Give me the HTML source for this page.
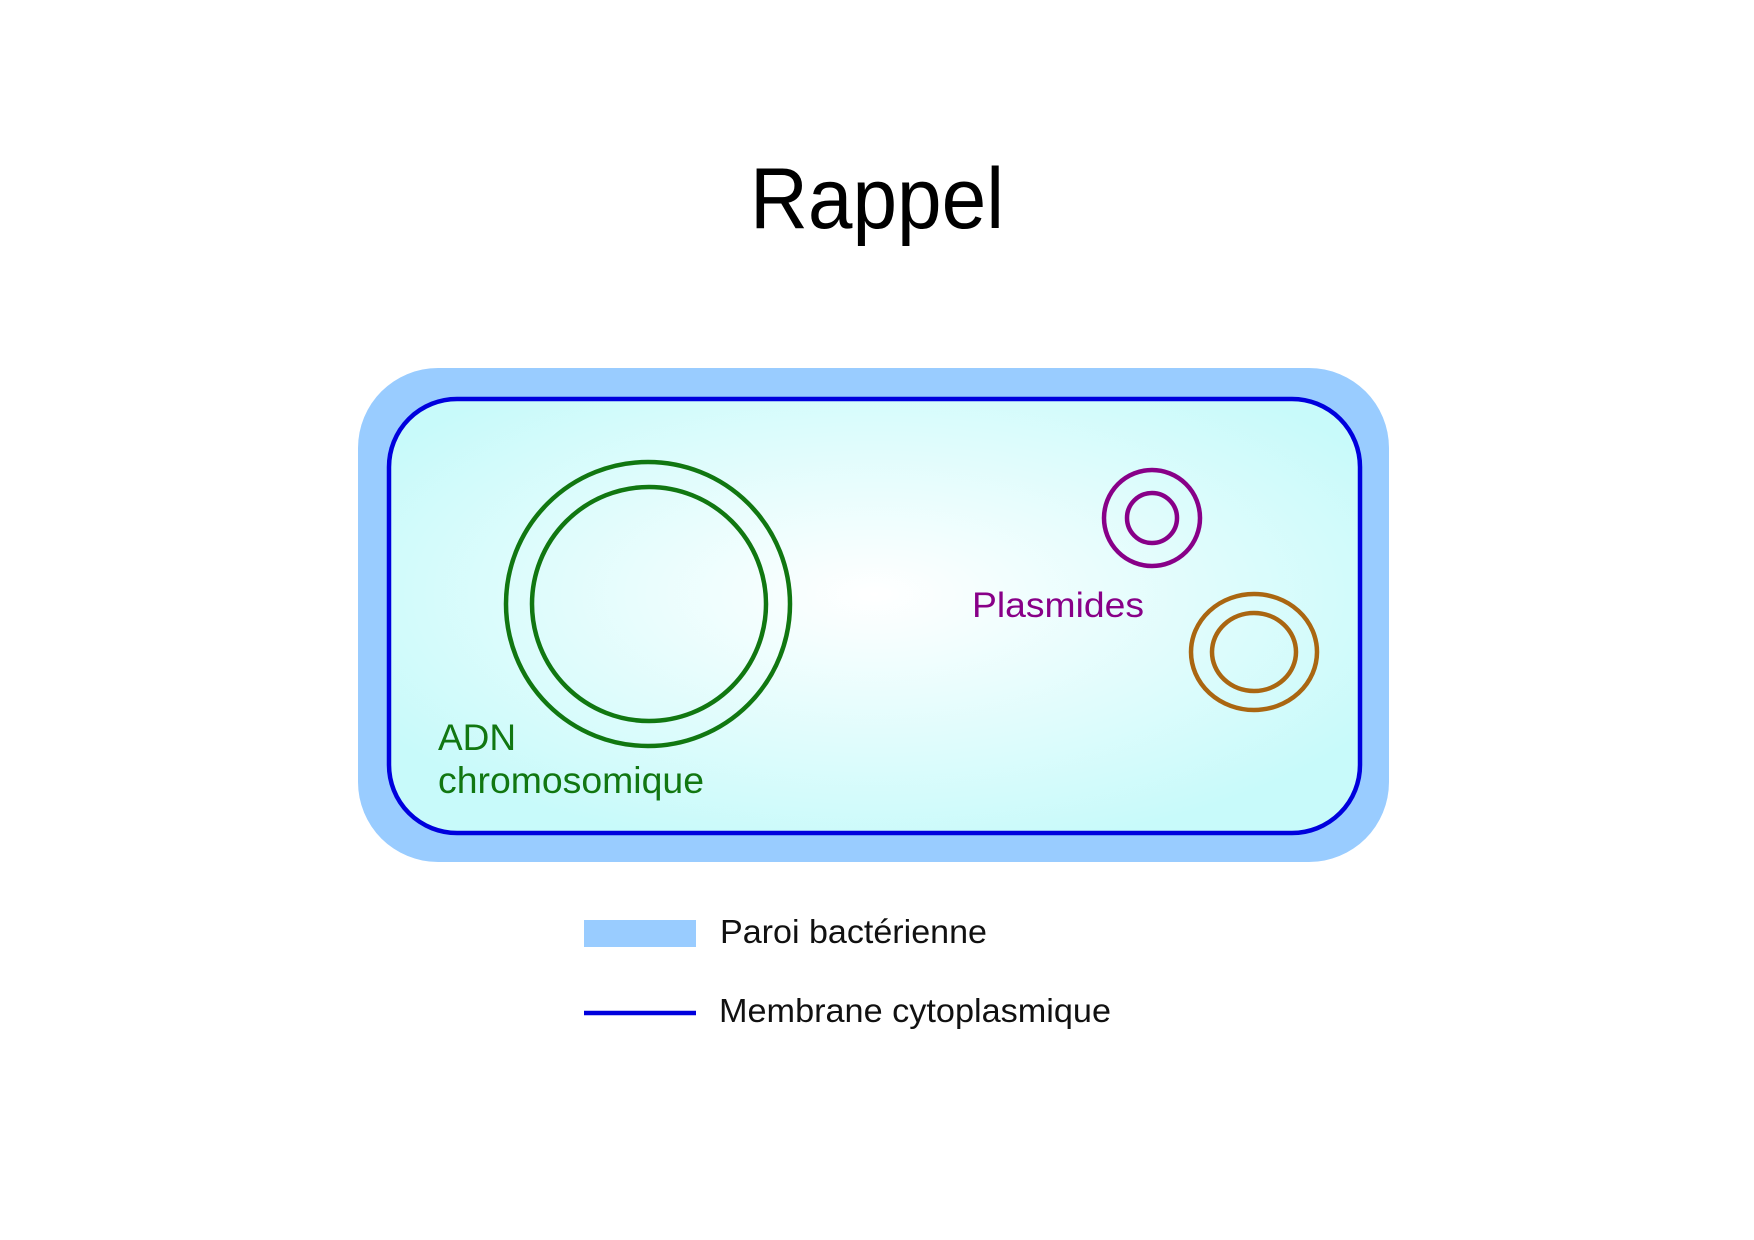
<!DOCTYPE html>
<html><head><meta charset="utf-8"><style>
html,body{margin:0;padding:0;background:#fff;}
svg{display:block;}
</style></head><body>
<svg width="1754" height="1240" viewBox="0 0 1754 1240" xmlns="http://www.w3.org/2000/svg">
<defs>
<radialGradient id="g" cx="0.5" cy="0.45" r="0.6">
<stop offset="0" stop-color="#ffffff"/>
<stop offset="1" stop-color="#c8fafa"/>
</radialGradient>
</defs>
<text x="877" y="228" font-family="Liberation Sans, sans-serif" font-size="86" text-anchor="middle" textLength="254" lengthAdjust="spacingAndGlyphs" fill="#000">Rappel</text>
<rect x="358" y="368" width="1031" height="494" rx="80" ry="80" fill="#99ccff"/>
<rect x="389" y="399" width="971" height="434" rx="68" ry="68" fill="url(#g)" stroke="#0000dd" stroke-width="4.5"/>
<circle cx="648" cy="604" r="142" fill="none" stroke="#117711" stroke-width="4.5"/>
<circle cx="649" cy="604" r="117" fill="none" stroke="#117711" stroke-width="4.5"/>
<circle cx="1152" cy="518" r="48" fill="none" stroke="#880088" stroke-width="4.5"/>
<circle cx="1152" cy="518" r="25" fill="none" stroke="#880088" stroke-width="4.5"/>
<ellipse cx="1254" cy="652" rx="63" ry="58" fill="none" stroke="#aa6611" stroke-width="4.5"/>
<ellipse cx="1254" cy="652" rx="42" ry="39" fill="none" stroke="#aa6611" stroke-width="4.5"/>
<text x="972" y="617" font-family="Liberation Sans, sans-serif" font-size="35" textLength="172" lengthAdjust="spacingAndGlyphs" fill="#880088">Plasmides</text>
<text x="438" y="750" font-family="Liberation Sans, sans-serif" font-size="37" fill="#117711">ADN</text>
<text x="438" y="793" font-family="Liberation Sans, sans-serif" font-size="37" textLength="266" lengthAdjust="spacingAndGlyphs" fill="#117711">chromosomique</text>
<rect x="584" y="920" width="112" height="27" fill="#99ccff"/>
<text x="720" y="943" font-family="Liberation Sans, sans-serif" font-size="33" textLength="267" lengthAdjust="spacingAndGlyphs" fill="#111">Paroi bactérienne</text>
<line x1="584" y1="1013" x2="696" y2="1013" stroke="#0000dd" stroke-width="4.5"/>
<text x="719" y="1022" font-family="Liberation Sans, sans-serif" font-size="33" textLength="392" lengthAdjust="spacingAndGlyphs" fill="#111">Membrane cytoplasmique</text>
</svg>
</body></html>
